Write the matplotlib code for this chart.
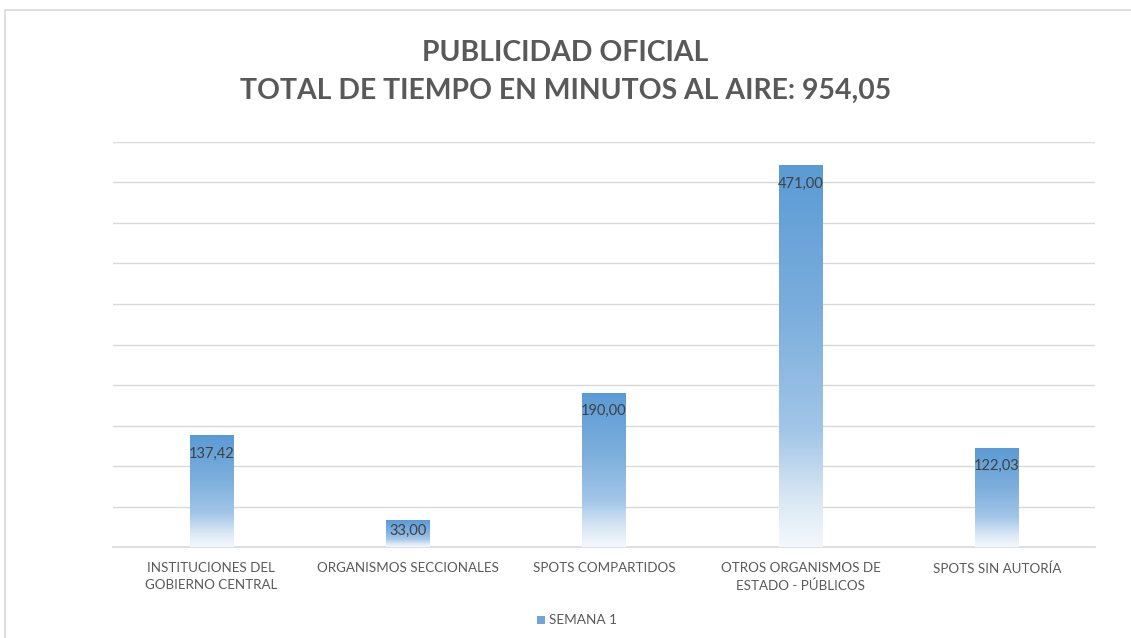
import matplotlib
matplotlib.use("Agg")
import matplotlib.pyplot as plt
import numpy as np
from matplotlib.colors import LinearSegmentedColormap
from matplotlib.patches import Rectangle

categories = ["INSTITUCIONES DEL\nGOBIERNO CENTRAL", "ORGANISMOS SECCIONALES",
              "SPOTS COMPARTIDOS", "OTROS ORGANISMOS DE\nESTADO - PÚBLICOS", "SPOTS SIN AUTORÍA"]
values = [137.42, 33.00, 190.00, 471.00, 122.03]
labels = ["137,42", "33,00", "190,00", "471,00", "122,03"]
series_name = "SEMANA 1"
title = "PUBLICIDAD OFICIAL\nTOTAL DE TIEMPO EN MINUTOS AL AIRE: 954,05"

plt.rcParams['font.family'] = ['Lato', 'DejaVu Sans']

W, H = 1131, 638
fig = plt.figure(figsize=(W/100, H/100), dpi=100)
fig.patch.set_facecolor("white")

# outer frame
fig.add_artist(Rectangle((5/W, -0.1), 1.2, 1 - 10/H + 0.1, transform=fig.transFigure,
                         fill=False, edgecolor="#d9d9d9", linewidth=1.2))

ax = fig.add_axes([113/W, 1 - 547/H, (1095-113)/W, (547-142)/H])
ax.set_xlim(-0.5, len(values) - 0.5)
ax.set_ylim(0, 500)

cmap = LinearSegmentedColormap.from_list("g", [(0.0, "#f4f8fc"), (0.12, "#dbe8f5"),
                                               (0.3, "#a3c6e8"), (0.6, "#7dafdd"),
                                               (1.0, "#5b9bd5")])
grad = np.linspace(0, 1, 256).reshape(-1, 1)
bw = 0.22
for i, v in enumerate(values):
    ax.imshow(grad, cmap=cmap, aspect="auto", origin="lower",
              extent=(i - bw/2, i + bw/2, 0, v), zorder=3, interpolation="bilinear")
    off = min(22.5, v / 2 - 3.7)
    ax.text(i, v - off, labels[i], ha="center", va="center", fontsize=10.5,
            color="#404040", zorder=4)

ax.set_yticks(np.arange(50, 501, 50))
ax.yaxis.grid(True, color="#d9d9d9", linewidth=1)
ax.set_axisbelow(True)
ax.tick_params(axis="y", left=False, labelleft=False)
ax.set_xticks(range(len(values)))
ax.set_xticklabels(categories, fontsize=9.6, color="#595959", linespacing=1.45)
ax.tick_params(axis="x", length=0, pad=11)
for s in ["top", "right", "left"]:
    ax.spines[s].set_visible(False)
ax.spines["bottom"].set_color("#d9d9d9")
ax.spines["bottom"].set_linewidth(1.2)
ax.set_aspect("auto")

fig.text(0.5, 1 - 72/H, title, ha="center", va="center", fontsize=20.4, fontweight="bold",
         color="#595959", linespacing=1.55)

# legend
lx, ly = 537/W, 1 - 620/H
fig.add_artist(Rectangle((lx, ly - 4/H), 8/W, 8/H, transform=fig.transFigure,
                         facecolor="#6fa6da", edgecolor="none"))
fig.text(lx + 12/W, ly, series_name, ha="left", va="center", fontsize=9.8, color="#595959")

fig.savefig("out.png", dpi=100)
